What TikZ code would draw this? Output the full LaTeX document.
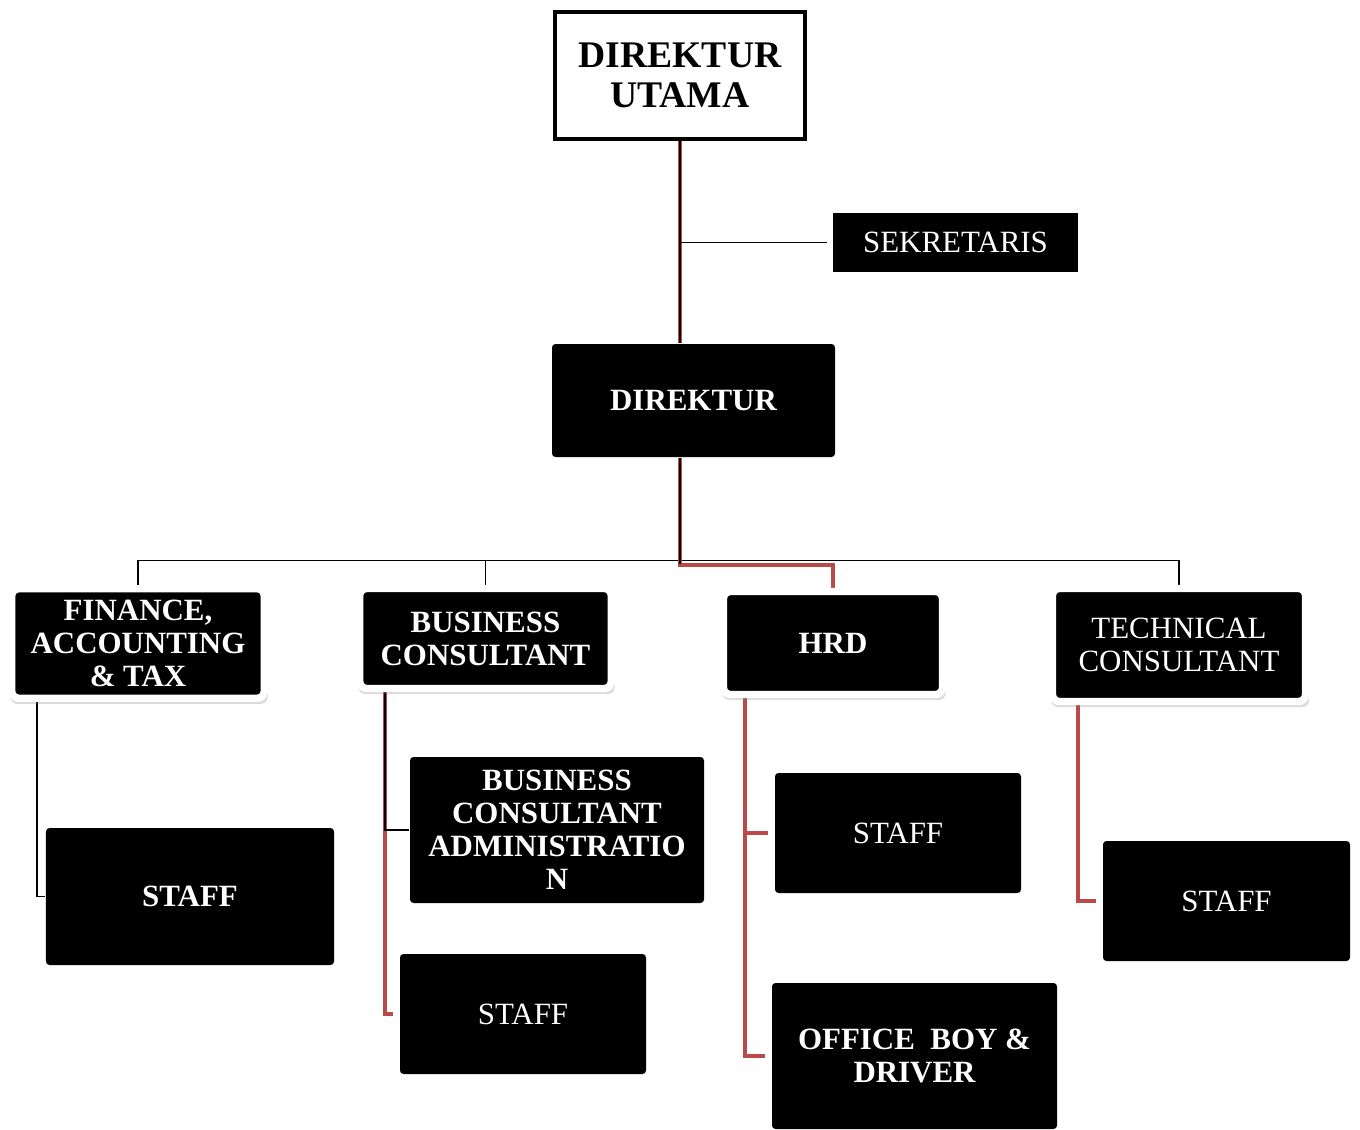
\documentclass[tikz,border=0pt]{standalone}
\usepackage{fontspec}
\setmainfont{Liberation Serif}
\usepackage{tikz}
\usepackage{xcolor}
\usetikzlibrary{positioning, backgrounds, shadows}
\definecolor{orgRed}{RGB}{185,74,71}

\tikzset{
  darkbox/.style={fill=black, text=white, rounded corners=1pt, align=center,
                  inner sep=0pt, font=\fontsize{8.8}{9.4}\selectfont},
  boldbox/.style={darkbox, font=\bfseries\fontsize{8.8}{9.4}\selectfont},
  unitbox/.style={draw=white, line width=2.1pt, rounded corners=2pt,
                  drop shadow={opacity=0.28, shadow scale=1.02, shadow xshift=0.01cm, shadow yshift=-0.045cm}},
  thinline/.style={draw=black, line width=0.55pt},
  redline/.style={draw=orgRed, line width=1.2pt},
}

\begin{document}
\begin{tikzpicture}
  \useasboundingbox (0,0) rectangle (13.6,-11.29);

  % top of the chart
  \node[draw=black, line width=1.15pt, fill=white, align=center, inner sep=0pt,
        minimum width=2.50cm, minimum height=1.27cm,
        font=\bfseries\fontsize{10.7}{11.4}\selectfont] (utama) at (6.80,-0.755)
    {DIREKTUR\\UTAMA};
  \node[darkbox, rounded corners=0pt, minimum width=2.45cm, minimum height=0.59cm]
    (sekretaris) at (9.555,-2.425) {SEKRETARIS};
  \node[boldbox, minimum width=2.83cm, minimum height=1.13cm] (direktur) at (6.935,-4.005) {DIREKTUR};

  % divisions
  \node[boldbox, unitbox, minimum width=2.525cm, minimum height=1.095cm]
    (finance) at (1.38,-6.435) {FINANCE,\\ACCOUNTING\\\& TAX};
  \node[boldbox, unitbox, minimum width=2.515cm, minimum height=1.0cm]
    (business) at (4.855,-6.385) {BUSINESS\\CONSULTANT};
  \node[boldbox, unitbox, minimum width=2.19cm, minimum height=1.03cm]
    (hrd) at (8.33,-6.43) {HRD};
  \node[darkbox, unitbox, minimum width=2.53cm, minimum height=1.13cm]
    (technical) at (11.79,-6.45) {TECHNICAL\\CONSULTANT};

  % staff level
  \node[boldbox, minimum width=2.88cm, minimum height=1.37cm] (finstaff) at (1.90,-8.965) {STAFF};
  \node[boldbox, minimum width=2.94cm, minimum height=1.46cm]
    (bcadmin) at (5.57,-8.30) {BUSINESS\\CONSULTANT\\ADMINISTRATIO\\N};
  \node[darkbox, minimum width=2.46cm, minimum height=1.20cm] (bcstaff) at (5.23,-10.14) {STAFF};
  \node[darkbox, minimum width=2.46cm, minimum height=1.20cm] (hrdstaff) at (8.98,-8.33) {STAFF};
  \node[boldbox, minimum width=2.85cm, minimum height=1.46cm]
    (officeboy) at (9.145,-10.56) {OFFICE\ \ BOY \&\\DRIVER};
  \node[darkbox, minimum width=2.47cm, minimum height=1.20cm] (techstaff) at (12.265,-9.01) {STAFF};

  \coordinate (bus) at (6.80,-5.605);

  % lines behind the boxes
  \begin{scope}[on background layer]
    \draw[redline] (utama.south) -- (utama.south |- direktur.north);
    \draw[thinline] (utama.south) -- (utama.south |- direktur.north);
    \draw[thinline, shorten >=0.05cm] (utama.south |- sekretaris.west) -- (sekretaris.west);

    \draw[thinline] (finance.north) |- (bus) -| (technical.north);
    \draw[thinline] (business.north) -- (business.north |- bus);
    \draw[redline] (utama.south |- direktur.south) -- ++(0,-1.075) -| (hrd.north);
    \draw[thinline] (utama.south |- direktur.south) -- ++(0,-1.06);

    \draw[thinline] ([xshift=0.29cm]finance.south west) |- (finstaff.west);
    \draw[redline, shorten >=0.06cm] ([xshift=0.29cm]business.south west) |- (bcstaff.west);
    \draw[thinline] ([xshift=0.29cm]business.south west) |- (bcadmin.west);
    \draw[redline, shorten >=0.06cm] ([xshift=0.255cm]hrd.south west) |- (hrdstaff.west);
    \draw[redline, shorten >=0.06cm] ([xshift=0.255cm]hrd.south west) |- (officeboy.west);
    \draw[redline, shorten >=0.06cm] ([xshift=0.295cm]technical.south west) |- (techstaff.west);
  \end{scope}
\end{tikzpicture}
\end{document}
